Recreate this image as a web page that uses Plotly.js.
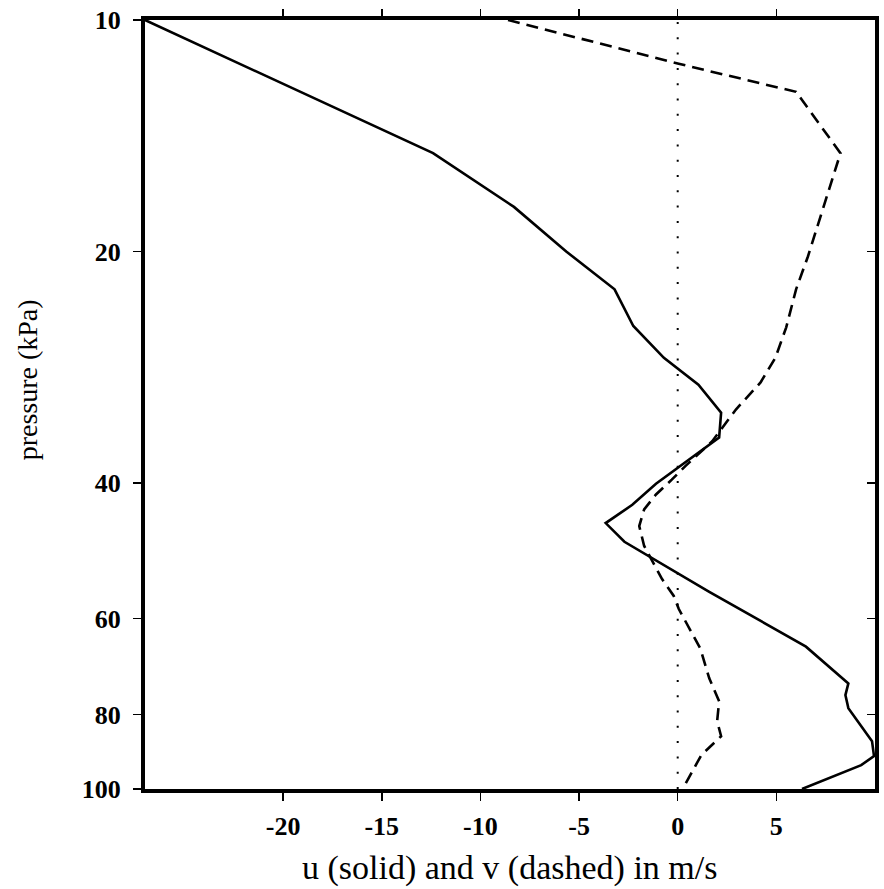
<!DOCTYPE html>
<html>
<head>
<meta charset="utf-8">
<script src="https://cdn.plot.ly/plotly-3.0.1.min.js"></script>
<style>
  html, body { margin: 0; padding: 0; background: #ffffff; }
  #chart { width: 884px; height: 889px; }
</style>
</head>
<body>
<div id="chart"></div>
<script>
// Zonal wind u (solid) against pressure, kPa
const pressureU = [10, 14.9, 17.5, 20.0, 22.4, 25.0, 27.5, 29.8, 32.4, 34.9, 40.1, 42.7, 45.1, 47.7, 55.4, 65.3, 72.9, 75.5, 78.5, 86.7, 90.6, 93.1, 100];
const uWind = [-27.0, -12.4, -8.3, -5.65, -3.2, -2.25, -0.7, 1.05, 2.2, 2.1, -1.1, -2.3, -3.65, -2.7, 1.6, 6.5, 8.65, 8.5, 8.65, 9.85, 9.95, 9.3, 6.3];

// Meridional wind v (dashed) against pressure, kPa
const pressureV = [10, 11.4, 12.4, 14.9, 20.3, 22.4, 25.1, 27.5, 29.6, 32.1, 35.3, 38.0, 39.6, 41.4, 43.3, 45.5, 48.3, 50.5, 53.3, 56.1, 58.3, 65.7, 71.8, 76.9, 81.6, 85.4, 90.3, 100];
const vWind = [-8.6, 0.05, 6.0, 8.25, 6.6, 6.0, 5.5, 4.95, 4.2, 2.95, 1.75, 0.4, -0.3, -1.1, -1.7, -1.95, -1.7, -1.3, -0.8, -0.2, 0.05, 1.15, 1.6, 2.1, 2.0, 2.2, 1.2, 0.25];

// Axis ticks
const windTicks = [-20, -15, -10, -5, 0, 5];
const pressureTicks = [10, 20, 40, 60, 80, 100];
const pressureTickLabels = ['10', '20', '40', '60', '80', '100'];

const windRange = [-27, 10];
const logPressureRange = [2, 1]; // log10 kPa, surface at the bottom
const calmWind = 0;

const serif = 'Liberation Serif, Times New Roman, serif';
const tickFont = { family: serif, size: 26, color: '#000', weight: 'bold' };

// u is drawn on the bottom/left axes, v on the top/right pair (same ranges)
const traces = [
  {
    x: uWind, y: pressureU, xaxis: 'x', yaxis: 'y',
    type: 'scatter', mode: 'lines',
    line: { color: '#000', width: 2.6 },
    hoverinfo: 'skip', showlegend: false
  },
  {
    x: vWind, y: pressureV, xaxis: 'x2', yaxis: 'y2',
    type: 'scatter', mode: 'lines',
    line: { color: '#000', width: 2.6, dash: '12px,7px' },
    hoverinfo: 'skip', showlegend: false
  }
];

const frame = { showline: true, linecolor: '#000', linewidth: 4, showgrid: false, zeroline: false, fixedrange: true };

const layout = {
  width: 884, height: 889,
  margin: { l: 145, r: 9, t: 20, b: 100 },
  paper_bgcolor: '#fff', plot_bgcolor: '#fff',
  xaxis: Object.assign({}, frame, {
    range: windRange,
    tickmode: 'array', tickvals: windTicks, ticktext: windTicks.map(String),
    ticks: 'outside', ticklen: 8, tickwidth: 1.5, tickcolor: '#000',
    tickfont: tickFont, ticklabelstandoff: 3
  }),
  xaxis2: Object.assign({}, frame, {
    overlaying: 'x', side: 'top', anchor: 'y2', range: windRange,
    tickmode: 'array', tickvals: windTicks,
    ticks: 'outside', ticklen: 7, tickwidth: 1.5, tickcolor: '#000',
    showticklabels: false
  }),
  yaxis: Object.assign({}, frame, {
    type: 'log', range: logPressureRange,
    tickmode: 'array', tickvals: pressureTicks, ticktext: pressureTickLabels,
    ticks: 'outside', ticklen: 8, tickwidth: 1.5, tickcolor: '#000',
    tickfont: tickFont, ticklabelstandoff: 7
  }),
  yaxis2: Object.assign({}, frame, {
    overlaying: 'y', side: 'right', anchor: 'x2', type: 'log', range: logPressureRange,
    tickmode: 'array', tickvals: pressureTicks,
    ticks: 'inside', ticklen: 8, tickwidth: 1.5, tickcolor: '#000',
    showticklabels: false
  }),
  shapes: [
    {
      type: 'line', xref: 'x', yref: 'paper',
      x0: calmWind, x1: calmWind, y0: 0, y1: 1,
      line: { color: '#000', width: 2, dash: '2px,13.3px' },
      layer: 'below'
    }
  ],
  annotations: [
    {
      text: 'u (solid) and v (dashed) in m/s',
      xref: 'paper', yref: 'paper', x: 0.5, y: -0.1027,
      xanchor: 'center', yanchor: 'middle', showarrow: false,
      font: { family: serif, size: 34, color: '#000' }
    },
    {
      text: 'pressure (kPa)',
      xref: 'paper', yref: 'paper', x: -0.161, y: 0.532,
      xanchor: 'center', yanchor: 'middle', showarrow: false, textangle: -90,
      font: { family: serif, size: 28, color: '#000' }
    }
  ]
};

Plotly.newPlot('chart', traces, layout, { displayModeBar: false, staticPlot: true });
</script>
</body>
</html>
